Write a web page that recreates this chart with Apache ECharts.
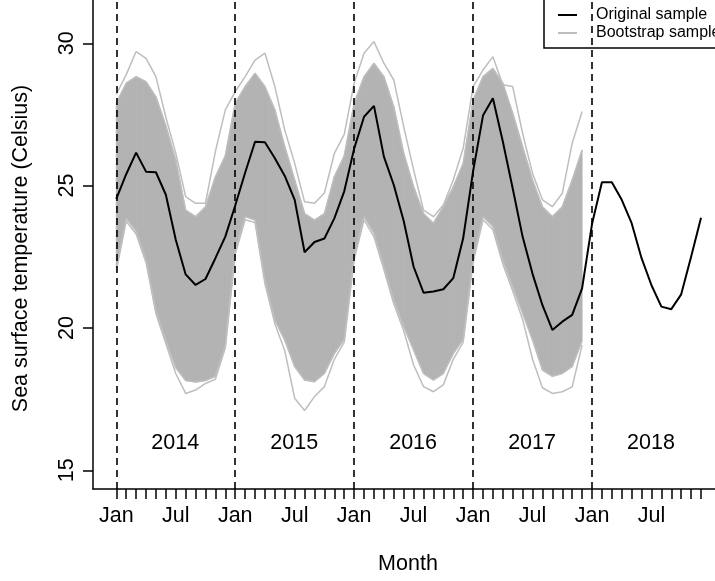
<!DOCTYPE html>
<html>
<head>
<meta charset="utf-8">
<script src="https://cdn.jsdelivr.net/npm/echarts@6/dist/echarts.min.js"></script>
<style>
html,body{margin:0;padding:0;background:#fff;}
#chart{width:715px;height:581px;}
</style>
</head>
<body>
<div id="chart"></div>
<script>
// ---- data ----
const monthNames = ['Jan','Feb','Mar','Apr','May','Jun','Jul','Aug','Sep','Oct','Nov','Dec'];
const years = ['2014','2015','2016','2017','2018'];
const labelledMonths = ['Jan','Jul'];
const yTicks = [15, 20, 25, 30];

// Original sample, Jan 2014 .. Dec 2018
const originalSample = [
  24.53, 25.40, 26.16, 25.49, 25.47, 24.68, 23.10, 21.88, 21.51, 21.72, 22.45, 23.21,
  24.30, 25.45, 26.54, 26.52, 25.96, 25.34, 24.50, 22.66, 23.02, 23.14, 23.85, 24.80,
  26.30, 27.42, 27.80, 26.02, 25.02, 23.76, 22.15, 21.24, 21.28, 21.36, 21.75, 23.15,
  25.50, 27.46, 28.07, 26.55, 24.90, 23.20, 21.90, 20.80, 19.93, 20.22, 20.46, 21.39,
  23.65, 25.12, 25.12, 24.50, 23.68, 22.45, 21.50, 20.75, 20.66, 21.18, 22.50, 23.87
];

// Bootstrap samples (Jan 2014 .. Dec 2017): outer fringe lines and dense body edges
const bootUpperOuter = [
  28.20, 28.90, 29.71, 29.47, 28.83, 27.40, 26.14, 24.61, 24.38, 24.38, 26.20, 27.66,
  28.30, 28.83, 29.41, 29.65, 28.48, 26.95, 25.78, 24.43, 24.38, 24.74, 26.13, 26.80,
  28.60, 29.65, 30.06, 29.30, 28.71, 27.07, 25.55, 24.14, 23.91, 24.32, 25.20, 26.31,
  28.48, 29.06, 29.53, 28.54, 28.48, 26.83, 25.43, 24.50, 24.26, 24.73, 26.49, 27.60
];
const bootUpperDense = [
  27.90, 28.60, 28.83, 28.65, 28.12, 27.10, 25.90, 24.14, 23.91, 24.26, 25.31, 26.05,
  27.90, 28.48, 28.95, 28.48, 27.66, 26.37, 25.20, 24.02, 23.79, 24.02, 25.31, 26.05,
  27.89, 28.83, 29.30, 28.83, 27.77, 26.14, 24.96, 24.02, 23.68, 24.26, 24.96, 25.78,
  28.00, 28.83, 29.12, 28.60, 27.54, 26.37, 25.20, 24.26, 23.91, 24.26, 25.20, 26.25
];
const bootLowerDense = [
  22.10, 23.85, 23.40, 22.40, 20.60, 19.57, 18.60, 18.15, 18.10, 18.15, 18.30, 19.40,
  22.70, 23.91, 23.79, 21.68, 20.27, 19.57, 18.64, 18.17, 18.11, 18.40, 19.10, 19.60,
  22.50, 23.91, 23.33, 22.15, 20.98, 20.05, 19.22, 18.40, 18.17, 18.40, 19.10, 19.60,
  22.40, 23.91, 23.56, 22.39, 21.45, 20.52, 19.58, 18.52, 18.30, 18.40, 18.64, 19.55
];
const bootLowerOuter = [
  22.00, 23.75, 23.30, 22.30, 20.50, 19.45, 18.40, 17.70, 17.82, 18.05, 18.20, 19.30,
  22.60, 23.80, 23.70, 21.55, 20.15, 19.20, 17.53, 17.10, 17.59, 17.94, 18.90, 19.50,
  22.40, 23.80, 23.20, 22.05, 20.85, 19.90, 18.70, 17.94, 17.76, 18.00, 18.90, 19.50,
  22.30, 23.80, 23.45, 22.25, 21.30, 20.30, 18.90, 17.90, 17.70, 17.76, 17.93, 19.40
];

// ---- build ----
const font = 'Liberation Sans, Arial, Helvetica, sans-serif';
const pairs = arr => arr.map((v, i) => [i, v]);
const monthIdx = originalSample.map((_, i) => i);
const labelIdx = monthIdx.filter(i => labelledMonths.indexOf(monthNames[i % 12]) >= 0);
const janIdx = years.map((_, k) => k * 12);
const julIdx = years.map((_, k) => k * 12 + monthNames.indexOf('Jul'));
const yearLabelLevel = 15.93;
const grayLine = '#BEBEBE';
const grayFill = '#B3B3B3';

// band segments: [i, lower_i, upper_i, lower_i+1, upper_i+1]
const bandSegments = bootLowerDense.slice(0, -1).map((lo, i) =>
  [i, lo, bootUpperDense[i], bootLowerDense[i + 1], bootUpperDense[i + 1]]);

function renderBand(params, api) {
  const i = api.value(0);
  const p1 = api.coord([i, api.value(1)]);
  const p2 = api.coord([i, api.value(2)]);
  const p3 = api.coord([i + 1, api.value(4)]);
  const p4 = api.coord([i + 1, api.value(3)]);
  return {
    type: 'polygon',
    shape: {points: [p1, p2, p3, p4]},
    style: {fill: grayFill, stroke: grayFill, lineWidth: 0.8}
  };
}

const chart = echarts.init(document.getElementById('chart'), null, {renderer: 'canvas'});
chart.setOption({
  animation: false,
  backgroundColor: '#fff',
  textStyle: {fontFamily: font},
  grid: {left: 93, right: 0, top: 0, bottom: 92, containLabel: false},
  legend: {
    orient: 'vertical', align: 'left',
    left: 544, top: -6,
    padding: [13, 8, 7, 13],
    itemWidth: 19, itemHeight: 16, itemGap: 2,
    borderColor: '#000', borderWidth: 1.5, borderRadius: 0,
    selectedMode: false,
    itemStyle: {color: 'transparent', borderColor: 'transparent', borderWidth: 0, opacity: 0},
    data: ['Original sample', 'Bootstrap sample'],
    textStyle: {fontSize: 16, color: '#000', fontFamily: font, lineHeight: 16, padding: [0, 0, 0, 14]}
  },
  xAxis: {
    type: 'value', min: -2.35, max: 60.41,
    name: 'Month', nameLocation: 'middle', nameGap: 64,
    nameTextStyle: {fontSize: 21.5, color: '#000', fontFamily: font, padding: [0, 0, 0, 8]},
    axisLine: {onZero: false, lineStyle: {color: '#000', width: 1.5}},
    axisTick: {show: true, length: 10, customValues: monthIdx, lineStyle: {color: '#000', width: 1.5}},
    axisLabel: {show: true, customValues: labelIdx, margin: 16, fontSize: 21.5, color: '#000', fontFamily: font,
      formatter: v => monthNames[Math.round(v) % 12]},
    splitLine: {show: false}
  },
  yAxis: {
    type: 'value', min: 14.343, max: 31.52,
    name: 'Sea surface temperature (Celsius)', nameLocation: 'middle', nameGap: 61,
    nameTextStyle: {fontSize: 21.5, color: '#000', fontFamily: font, padding: [0, 8, 0, 0]},
    axisLine: {onZero: false, lineStyle: {color: '#000', width: 1.5}},
    axisTick: {show: true, length: 10, customValues: yTicks, lineStyle: {color: '#000', width: 1.5}},
    axisLabel: {show: true, customValues: yTicks, rotate: 90, margin: 15, fontSize: 21.5, color: '#000', fontFamily: font},
    splitLine: {show: false}
  },
  series: [
    {name: 'Bootstrap sample', type: 'line', data: pairs(bootLowerOuter), symbol: 'none', silent: true,
      color: grayLine, lineStyle: {color: grayLine, width: 1.5}},
    {name: 'Bootstrap sample', type: 'line', data: pairs(bootUpperOuter), symbol: 'none', silent: true,
      color: grayLine, lineStyle: {color: grayLine, width: 1.5}},
    {name: 'bootstrap band', type: 'custom', data: bandSegments, renderItem: renderBand, silent: true,
      encode: {x: 0, y: [1, 2, 3, 4]}},
    {name: 'Bootstrap sample', type: 'line', data: pairs(bootLowerDense), symbol: 'none', silent: true,
      color: grayLine, lineStyle: {color: grayLine, width: 1.5}},
    {name: 'Bootstrap sample', type: 'line', data: pairs(bootUpperDense), symbol: 'none', silent: true,
      color: grayLine, lineStyle: {color: grayLine, width: 1.5}},
    {name: 'Original sample', type: 'line', data: pairs(originalSample), symbol: 'none', silent: true,
      color: '#000', lineStyle: {color: '#000', width: 2}, z: 5,
      markLine: {silent: true, symbol: ['none', 'none'], label: {show: false},
        lineStyle: {color: '#000', type: [7, 5], width: 1.6},
        data: janIdx.map(v => ({xAxis: v}))}},
    {name: 'year labels', type: 'scatter', silent: true, symbolSize: 1, itemStyle: {color: 'transparent', opacity: 1},
      data: julIdx.map((v, k) => ({value: [v, yearLabelLevel], name: years[k]})),
      label: {show: true, position: [0, 0], align: 'center', verticalAlign: 'middle',
        formatter: p => p.name, fontSize: 21.5, color: '#000', opacity: 1,
        textBorderWidth: 0, fontFamily: font},
      z: 6}
  ]
});
</script>
</body>
</html>
